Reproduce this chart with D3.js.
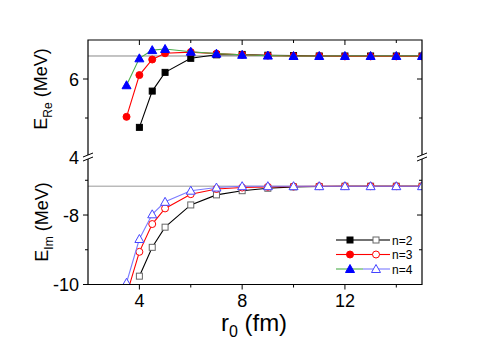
<!DOCTYPE html>
<html>
<head>
<meta charset="utf-8">
<script src="https://cdn.jsdelivr.net/npm/d3@7"></script>
<style>
  body { margin: 0; background: #fff; }
  text { font-family: Arial, "Liberation Sans", sans-serif; }
</style>
</head>
<body>
<svg id="chart" width="491" height="341"></svg>
<script>
var r0 = [3.5, 4, 4.5, 5, 6, 7, 8, 9, 10, 11, 12, 13, 14, 15];

// real part (MeV)
var re2 = [null, 4.76, 5.69, 6.17, 6.53, 6.62, 6.63, 6.61, 6.60, 6.59, 6.59, 6.59, 6.59, 6.59];
var re3 = [5.03, 6.10, 6.50, 6.66, 6.69, 6.65, 6.62, 6.60, 6.59, 6.59, 6.58, 6.58, 6.58, 6.58];
var re4 = [5.84, 6.53, 6.74, 6.77, 6.70, 6.65, 6.62, 6.60, 6.59, 6.59, 6.59, 6.59, 6.59, 6.59];
var reLine = 6.59;

// imaginary part (MeV)
var im2 = [null, -9.76, -8.93, -8.35, -7.71, -7.42, -7.30, -7.23, -7.19, -7.18, -7.17, -7.17, -7.17, -7.17];
var im3 = [-10.3, -9.06, -8.26, -7.81, -7.40, -7.25, -7.21, -7.19, -7.18, -7.17, -7.17, -7.17, -7.17, -7.17];
var im4 = [-9.95, -8.69, -7.98, -7.62, -7.30, -7.21, -7.17, -7.17, -7.17, -7.17, -7.17, -7.17, -7.17, -7.17];
var imLine = -7.17;

var legendLabels = ["n=2", "n=3", "n=4"];
var xMajor = [4, 8, 12], xMinor = [6, 10, 14];
var reMajor = [4, 6], reMinor = [5];
var imMajor = [-10, -8], imMinor = [-9, -7];

var pl = 88, pr = 422, pt = 40, brk = 157, pb = 284.5;

var x = d3.scaleLinear().domain([2, 15]).range([pl, pr]);
var yRe = d3.scaleLinear().domain([4, 7]).range([brk, pt]);
var yIm = d3.scaleLinear().domain([-10, -6.33]).range([pb, brk]);

var svg = d3.select("#chart");
var defs = svg.append("defs");
defs.append("clipPath").attr("id", "clipRe").append("rect")
    .attr("x", pl).attr("y", pt).attr("width", pr - pl).attr("height", brk - pt);
defs.append("clipPath").attr("id", "clipIm").append("rect")
    .attr("x", pl).attr("y", brk).attr("width", pr - pl).attr("height", pb - brk);

var styles = {
  re2: {line: "#000", fill: "#000", stroke: "#000", shape: "square"},
  re3: {line: "#ff0000", fill: "#ff0000", stroke: "#ff0000", shape: "circle"},
  re4: {line: "#4cae4c", fill: "#0000ff", stroke: "#0000ff", shape: "triangle"},
  im2: {line: "#000", fill: "#fff", stroke: "#666", shape: "square"},
  im3: {line: "#ff0000", fill: "#fff", stroke: "#ff0000", shape: "circle"},
  im4: {line: "#7b7bff", fill: "#fff", stroke: "#4444ff", shape: "triangle"}
};

function marker(g, st, cx, cy) {
  if (st.shape == "square") {
    g.append("rect").attr("x", cx - 3).attr("y", cy - 3).attr("width", 6).attr("height", 6)
      .attr("fill", st.fill).attr("stroke", st.stroke).attr("stroke-width", 1);
  } else if (st.shape == "circle") {
    g.append("circle").attr("cx", cx).attr("cy", cy).attr("r", 3.5)
      .attr("fill", st.fill).attr("stroke", st.stroke).attr("stroke-width", 1);
  } else {
    g.append("path").attr("d", `M${cx},${cy - 4.5}L${cx + 4.5},${cy + 3.5}L${cx - 4.5},${cy + 3.5}Z`)
      .attr("fill", st.fill).attr("stroke", st.stroke).attr("stroke-width", 1);
  }
}

function series(vals, y, st, clip) {
  var pts = r0.map((d, i) => [d, vals[i]]).filter(p => p[1] != null);
  var g = svg.append("g").attr("clip-path", `url(#${clip})`);
  g.append("path")
    .attr("d", d3.line().x(p => x(p[0])).y(p => y(p[1]))(pts))
    .attr("fill", "none").attr("stroke", st.line).attr("stroke-width", 1.1);
  pts.forEach(p => marker(g, st, x(p[0]), y(p[1])));
}

// reference lines
svg.append("line").attr("x1", pl).attr("x2", pr).attr("y1", yRe(reLine)).attr("y2", yRe(reLine))
  .attr("stroke", "#888").attr("stroke-width", 1);
svg.append("line").attr("x1", pl).attr("x2", pr).attr("y1", yIm(imLine)).attr("y2", yIm(imLine))
  .attr("stroke", "#999").attr("stroke-width", 1);

series(re2, yRe, styles.re2, "clipRe");
series(re3, yRe, styles.re3, "clipRe");
series(re4, yRe, styles.re4, "clipRe");
series(im2, yIm, styles.im2, "clipIm");
series(im3, yIm, styles.im3, "clipIm");
series(im4, yIm, styles.im4, "clipIm");

// frame
svg.append("path").attr("d", `M${pl},${pb}V${pt}H${pr}V${pb}H${pl}`)
  .attr("stroke", "#000").attr("stroke-width", 1.2).attr("fill", "none");

// ticks
var tk = svg.append("g").attr("stroke", "#000").attr("stroke-width", 1);
xMajor.forEach(v => {
  tk.append("line").attr("x1", x(v)).attr("x2", x(v)).attr("y1", pb).attr("y2", pb + 5);
  tk.append("line").attr("x1", x(v)).attr("x2", x(v)).attr("y1", pt).attr("y2", pt + 5);
});
xMinor.forEach(v => {
  tk.append("line").attr("x1", x(v)).attr("x2", x(v)).attr("y1", pb).attr("y2", pb + 3);
  tk.append("line").attr("x1", x(v)).attr("x2", x(v)).attr("y1", pt).attr("y2", pt + 3);
});
[[reMajor, yRe, 5], [reMinor, yRe, 3], [imMajor, yIm, 5], [imMinor, yIm, 3]].forEach(t => {
  t[0].forEach(v => {
    if (v == 4) return;
    var yy = t[1](v);
    tk.append("line").attr("x1", pl - t[2]).attr("x2", pl).attr("y1", yy).attr("y2", yy);
    tk.append("line").attr("x1", pr - t[2]).attr("x2", pr).attr("y1", yy).attr("y2", yy);
  });
});

// axis break marks
[pl, pr].forEach(ax => {
  var b = svg.append("g");
  b.append("rect").attr("x", ax - 3).attr("y", brk - 2).attr("width", 6).attr("height", 4).attr("fill", "#fff");
  [-2, 2].forEach(o => {
    b.append("line").attr("x1", ax - 5).attr("x2", ax + 5).attr("y1", brk + o + 2).attr("y2", brk + o - 2)
      .attr("stroke", "#000").attr("stroke-width", 1);
  });
});

// tick labels
var lab = svg.append("g").attr("font-size", 18).attr("fill", "#000");
xMajor.forEach(v => lab.append("text").attr("x", x(v)).attr("y", pb + 22).attr("text-anchor", "middle").text(v));
reMajor.forEach(v => lab.append("text").attr("x", pl - 9).attr("y", yRe(v) + 6.5).attr("text-anchor", "end").text(v));
imMajor.forEach(v => lab.append("text").attr("x", pl - 9).attr("y", yIm(v) + 6.5).attr("text-anchor", "end").text(v));

// axis titles
var xt = svg.append("text").attr("x", 254).attr("y", 331).attr("text-anchor", "middle").attr("font-size", 24);
xt.append("tspan").text("r");
xt.append("tspan").attr("font-size", 16).attr("dy", 6).text("0");
xt.append("tspan").attr("dy", -6).text(" (fm)");

function ytitle(cx, cy, sub) {
  var t = svg.append("text").attr("transform", `translate(${cx},${cy}) rotate(-90)`)
    .attr("text-anchor", "middle").attr("font-size", 18);
  t.append("tspan").text("E");
  t.append("tspan").attr("font-size", 12).attr("dy", 5).text(sub);
  t.append("tspan").attr("dy", -5).text(" (MeV)");
}
ytitle(47, 89, "Re");
ytitle(48, 222, "Im");

// legend
var lg = svg.append("g");
[["re2", "im2"], ["re3", "im3"], ["re4", "im4"]].forEach((k, i) => {
  var yy = 240 + i * 14.5;
  var a = styles[k[0]], b = styles[k[1]];
  lg.append("line").attr("x1", 336).attr("x2", 363).attr("y1", yy).attr("y2", yy).attr("stroke", a.line).attr("stroke-width", 1.1);
  lg.append("line").attr("x1", 363).attr("x2", 390).attr("y1", yy).attr("y2", yy).attr("stroke", b.line).attr("stroke-width", 1.1);
  marker(lg, a, 350, yy);
  marker(lg, b, 376, yy);
  lg.append("text").attr("x", 392).attr("y", yy + 4.5).attr("font-size", 12).text(legendLabels[i]);
});
</script>
</body>
</html>
